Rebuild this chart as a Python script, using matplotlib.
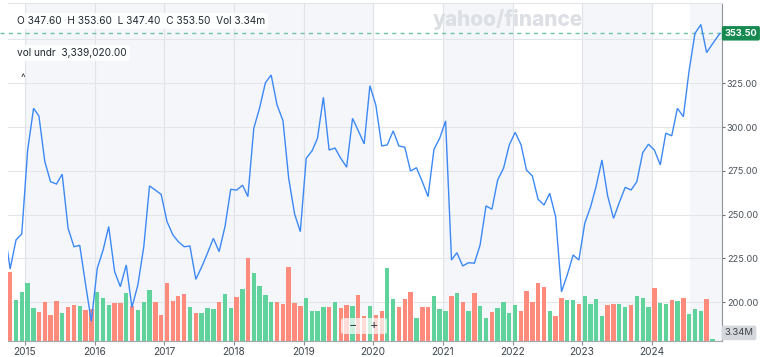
import matplotlib
matplotlib.use('Agg')
import matplotlib.pyplot as plt
import matplotlib.dates as mdates
import matplotlib.transforms as mtransforms
from matplotlib.patches import FancyBboxPatch
import pandas as pd
import datetime as dt

# ---------------- data ----------------
price_start = '2014-09-01'          # monthly closes, one per month
close = [
    242.0, 219.0, 235.6, 239.0,
    286.9, 310.7, 306.3, 280.3, 268.8, 267.5, 273.1, 242.2, 231.7, 232.5, 210.0, 189.0,
    219.4, 229.9, 243.2, 217.5, 208.9, 221.3, 197.1, 209.9, 231.7, 266.4, 264.0, 261.6,
    246.0, 238.4, 234.6, 231.7, 232.1, 213.1, 220.0, 228.0, 236.5, 228.9, 243.2, 264.5,
    264.0, 266.8, 260.3, 299.3, 310.7, 325.3, 329.7, 312.6, 303.7, 270.8, 250.4, 240.3,
    282.2, 286.5, 293.6, 317.0, 286.9, 288.0, 282.2, 277.1, 305.0, 297.9, 290.4, 323.6,
    312.6, 289.2, 289.8, 297.8, 289.2, 288.5, 274.9, 276.8, 268.8, 260.3, 287.3, 293.6,
    303.5, 224.1, 228.3, 220.7, 222.6, 222.3, 232.7, 255.0, 253.1, 269.8, 276.5, 289.8,
    297.0, 289.8, 275.5, 272.1, 258.8, 255.5, 262.2, 248.9, 206.0, 215.6, 227.0, 224.1,
    245.1, 254.6, 266.0, 281.2, 260.7, 247.9, 256.9, 265.6, 264.1, 268.8, 285.4, 290.2,
    286.9, 278.4, 296.5, 295.0, 310.7, 305.9, 332.0, 353.5, 358.5, 342.5, 347.5,
]
last_quote_date = '2024-12-24'
last_quote = 353.50

vol_start = '2014-10-01'            # monthly volume, millions
volume_m = [
    152.5, 90.2, 107.1,
    126.9, 71.9, 64.5, 86.5, 57.2, 88.7, 62.3, 74.1, 79.2, 77.0, 68.2, 69.7,
    107.1, 93.9, 79.2, 82.9, 82.9, 104.9, 77.0, 68.2, 86.5, 112.2, 86.5, 57.2,
    128.3, 88.7, 99.0, 102.7, 75.5, 62.3, 60.9, 71.9, 71.1, 85.8, 103.4, 72.6,
    96.8, 115.1, 183.3, 148.9, 121.7, 101.9, 85.8, 86.5, 81.0, 163.5, 82.9, 77.0,
    95.3, 66.7, 66.0, 74.1, 74.1, 86.5, 71.9, 79.2, 77.0, 101.2, 55.0, 77.0,
    57.2, 66.7, 161.3, 92.4, 74.1, 92.4, 107.1, 51.3, 75.5, 75.5, 99.7, 69.7,
    66.0, 99.0, 104.9, 85.1, 66.0, 104.9, 77.0, 51.3, 63.8, 71.9, 85.1, 60.9,
    79.2, 66.7, 110.0, 85.1, 126.9, 118.1, 66.0, 55.0, 93.9, 90.2, 90.2, 81.4,
    99.7, 80.7, 91.7, 55.7, 79.2, 81.4, 80.7, 75.5, 79.2, 99.0, 93.9, 75.5,
    115.9, 82.9, 80.7, 90.2, 88.7, 95.3, 59.4, 69.7, 66.0, 92.4, 3.34,
]
vol_dir = ("RGG"
           "GGRRRRGRRGRR"
           "GGGRRGRGGGRR"
           "RRRRGRGGGRGG"
           "RGRGGGGRRRRR"
           "GGGGRGRRGRRG"
           "RRGGRRRGRRGG"
           "GRGRGRGGRGGG"
           "GRRRRRGRRGGR"
           "GGGGRRGGRGGG"
           "RGGRGRGGGRG")

years = list(range(2015, 2025))
price_ticks = [200, 225, 250, 275, 300, 325, 350]
labelled_ticks = [200, 225, 250, 275, 300, 325]   # 350 sits under the price badge
header = "O 347.60  H 353.60  L 347.40  C 353.50  Vol 3.34m"
sub_header = "vol undr  3,339,020.00"
vol_label = "3.34M"
watermark = "yahoo/finance"
shaded = [('2015-01-01', '2020-01-01'), ('2021-01-01', '2022-01-01'),
          ('2023-01-01', '2024-01-01'), ('2024-07-20', '2025-02-01')]

# ---------------- style ----------------
plt.rcParams['font.family'] = ['Inter', 'DejaVu Sans']
GREEN = '#5fd39b'
RED = '#ff8b7d'
LINE = '#3c89f5'

W, H = 760, 357
fig = plt.figure(figsize=(W / 100, H / 100), dpi=100)
L, R, B, T = 8.3, 721.7, 341.0, 3.0
ax = fig.add_axes([L / W, (H - B) / H, (R - L) / W, (B - T) / H])

price_dates = list(pd.date_range(price_start, periods=len(close), freq='MS') + pd.Timedelta(days=14))
price_dates.append(pd.Timestamp(last_quote_date))
price_x = mdates.date2num([d.to_pydatetime() for d in price_dates])
price_y = close + [last_quote]

vol_dates = pd.date_range(vol_start, periods=len(volume_m), freq='MS') + pd.Timedelta(days=14)
vol_x = mdates.date2num([d.to_pydatetime() for d in vol_dates])
colors = [GREEN if c == 'G' else RED for c in vol_dir]

d2015 = mdates.date2num(dt.datetime(2015, 1, 1))
d2024 = mdates.date2num(dt.datetime(2024, 1, 1))
px_per_day = (651.7 - 25.0) / (d2024 - d2015)
x0 = d2015 - (25.0 - L) / px_per_day
x1 = d2015 + (R - 25.0) / px_per_day

# shading bands
for a, b in shaded:
    ax.axvspan(mdates.date2num(pd.Timestamp(a).to_pydatetime()),
               mdates.date2num(pd.Timestamp(b).to_pydatetime()),
               color='#f4f6fa', lw=0, zorder=0.1)

# volume bars on their own vertical scale
vol_top = 743.6
trans_vol = mtransforms.blended_transform_factory(
    ax.transData, mtransforms.Affine2D().scale(1, 1 / vol_top) + ax.transAxes)
ax.bar(vol_x, volume_m, width=23, color=colors, transform=trans_vol, zorder=1, lw=0)

# price line
ax.plot(price_x, price_y, color=LINE, lw=1.0, zorder=3, solid_joinstyle='miter')

ax.set_xlim(x0, x1)
ax.set_ylim(177.9, 370.8)

ax.set_xticks(mdates.date2num([dt.datetime(y, 1, 1) for y in years]))
ax.set_xticklabels([str(y) for y in years])
ax.set_yticks(price_ticks)
ax.set_yticklabels([f"{v:.2f}" if v in labelled_ticks else '' for v in price_ticks])
ax.yaxis.tick_right()
ax.set_axisbelow(True)
ax.grid(axis='y', color='#e4e6ea', lw=0.8, zorder=0.5)
ax.grid(axis='x', color='#e0e3e7', lw=0.8, zorder=0.5)
ax.tick_params(axis='y', labelsize=6.6, colors='#6b7178', labelcolor='#4b5259',
               length=2.5, width=0.8, pad=1.2)
ax.tick_params(axis='x', labelsize=7.3, colors='#8a9096', labelcolor='#3f464d',
               length=3, width=0.8, pad=1.5)
ax.spines['left'].set_visible(False)
ax.spines['top'].set_color('#e3e5e9')
ax.spines['top'].set_linewidth(0.8)
ax.spines['right'].set_color('#8d9399')
ax.spines['right'].set_linewidth(0.8)
ax.spines['bottom'].set_color('#a3a8ad')
ax.spines['bottom'].set_linewidth(0.8)
ax.set_facecolor('white')

# current price dashed line + badge
ax.axhline(last_quote, xmin=-L / (R - L), xmax=1, color='#6cc4a1', lw=1.0,
           ls=(0, (3, 3)), zorder=2.5, clip_on=False)
ybl = mtransforms.blended_transform_factory(ax.transAxes, ax.transData)
ax.text(1.004, last_quote, f"{last_quote:.2f}", transform=ybl, ha='left', va='center',
        color='white', fontsize=6.6, fontweight='bold', zorder=10, clip_on=False,
        bbox=dict(boxstyle='round,pad=0.3,rounding_size=0.2', fc='#178a52', ec='none'))
ax.text(1.004, 0.024, vol_label, transform=ax.transAxes, ha='left', va='center',
        color='#3d4349', fontsize=6.8, zorder=10, clip_on=False,
        bbox=dict(boxstyle='round,pad=0.3,rounding_size=0.2', fc='#d4d7db', ec='none'))

# header texts
fig.text(17 / W, 1 - 21 / H, header, fontsize=7.3, color='#232a31', va='center', ha='left',
         bbox=dict(boxstyle='round,pad=0.3', fc='white', ec='none', alpha=0.9))
fig.text(17 / W, 1 - 53 / H, sub_header, fontsize=7.3, color='#232a31', va='center', ha='left',
         bbox=dict(boxstyle='round,pad=0.3', fc='white', ec='none', alpha=0.9))
fig.text(22.7 / W, 1 - 78 / H, '^', fontsize=7, color='#333333', va='center', ha='center')
fig.text(508 / W, 1 - 19 / H, watermark, fontsize=15, fontweight='heavy',
         color='#dcdfe3', ha='center', va='center')

# zoom buttons
btn = FancyBboxPatch((341 / W, 1 - 334 / H), 46 / W, 16 / H,
                     boxstyle='round,pad=0.0,rounding_size=0.005',
                     transform=fig.transFigure, fc='white', ec='none', alpha=0.7, zorder=20)
fig.patches.append(btn)
fig.text(353 / W, 1 - 326 / H, '−', fontsize=9, color='#3d4349', ha='center', va='center', zorder=21)
fig.text(374 / W, 1 - 326 / H, '+', fontsize=9, color='#3d4349', ha='center', va='center', zorder=21)

fig.savefig('out.png', dpi=100, facecolor='white')
